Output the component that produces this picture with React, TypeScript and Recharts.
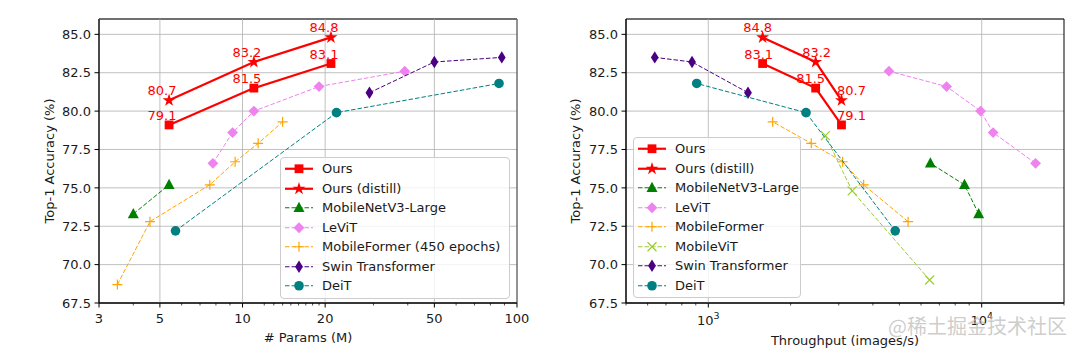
import React from 'react';
import {
  ScatterChart,
  Scatter,
  XAxis,
  YAxis,
  CartesianGrid,
  ReferenceLine,
  ReferenceArea,
  Legend,
} from 'recharts';

const FONT = '"DejaVu Sans", sans-serif';

// accuracies, listed per model from smallest to largest
const oursAcc = [79.1, 81.5, 83.1];
const oursDistillAcc = [80.7, 83.2, 84.8];
const levitAcc = [76.6, 78.6, 80.0, 81.6, 82.6];
const swinAcc = [81.2, 83.2, 83.5];
const deitAcc = [72.2, 79.9, 81.8];

// left panel: # params (M)
const oursParams = [5.4, 11, 21];
const mnv3Params = [4.0, 5.4];
const mnv3AccP = [73.3, 75.2];
const levitParams = [7.8, 9.2, 11, 19, 39];
const mformerParams = [3.5, 4.6, 7.6, 9.4, 11.4, 14.0];
const mformerAccP = [68.7, 72.8, 75.2, 76.7, 77.9, 79.3];
const swinParams = [29, 50, 88];
const deitParams = [5.7, 22, 86];

// right panel: throughput (images/s), same model order
const oursThroughput = [3070, 2470, 1580];
const mnv3Throughput = [9750, 8650, 6490];
const mnv3AccT = [73.3, 75.2, 76.6];
const levitThroughput = [15740, 11010, 9910, 7440, 4580];
const mformerThroughput = [5380, 3700, 3100, 2380, 1720];
const mformerAccT = [72.8, 75.2, 76.7, 77.9, 79.3];
const mvitThroughput = [6450, 3360, 2680];
const mvitAcc = [69.0, 74.8, 78.4];
const swinThroughput = [1397, 872, 637];
const deitThroughput = [4827, 2277, 907];

const accTicks = [67.5, 70, 72.5, 75, 77.5, 80, 82.5, 85];
const paramTicks = [3, 5, 10, 20, 50, 100];
const paramMinor = [4, 6, 7, 8, 9, 12, 13, 14, 15, 16, 17, 18, 19, 30, 40, 60, 70, 80, 90];
const tputTicks = [1000, 10000];
const tputMinor = [500, 600, 700, 800, 900, 2000, 3000, 4000, 5000, 6000, 7000, 8000, 9000, 20000];

// label nudges (px) for the annotated red points
const leftLabelDx = [-7, -7, -7];
const rightLabelDxOurs = [10, -5, -4];
const rightLabelDxDistill = [10, 1, -5];

type Pt = { v: number; acc: number; i: number };
const pts = (xs: number[], ys: number[]): Pt[] => xs.map((v, i) => ({ v, acc: ys[i], i }));

type Kind = 'square' | 'star' | 'triangle' | 'diamond' | 'thin_diamond' | 'plus' | 'x' | 'circle';

interface Series {
  name: string;
  data: Pt[];
  color: string;
  marker: Kind;
  solid?: boolean;
}

const Marker = ({ kind, cx, cy, color }: { kind: Kind; cx: number; cy: number; color: string }) => {
  switch (kind) {
    case 'square':
      return <rect x={cx - 4.4} y={cy - 4.4} width={8.8} height={8.8} fill={color} />;
    case 'star': {
      const R = 6.8;
      const r = R * 0.382;
      const p: string[] = [];
      for (let k = 0; k < 10; k++) {
        const a = -Math.PI / 2 + (k * Math.PI) / 5;
        const rad = k % 2 === 0 ? R : r;
        p.push(`${cx + rad * Math.cos(a)},${cy + rad * Math.sin(a)}`);
      }
      return <polygon points={p.join(' ')} fill={color} />;
    }
    case 'triangle':
      return <polygon points={`${cx},${cy - 6} ${cx - 5.5},${cy + 4.2} ${cx + 5.5},${cy + 4.2}`} fill={color} />;
    case 'diamond':
      return <polygon points={`${cx},${cy - 5.4} ${cx + 5.4},${cy} ${cx},${cy + 5.4} ${cx - 5.4},${cy}`} fill={color} />;
    case 'thin_diamond':
      return <polygon points={`${cx},${cy - 6.2} ${cx + 3.9},${cy} ${cx},${cy + 6.2} ${cx - 3.9},${cy}`} fill={color} />;
    case 'circle':
      return <circle cx={cx} cy={cy} r={4.8} fill={color} />;
    case 'plus':
      return (
        <path
          d={`M${cx - 5},${cy}H${cx + 5}M${cx},${cy - 5}V${cy + 5}`}
          stroke={color}
          strokeWidth={1.2}
          fill="none"
        />
      );
    case 'x':
      return (
        <path
          d={`M${cx - 4.5},${cy - 4.5}L${cx + 4.5},${cy + 4.5}M${cx - 4.5},${cy + 4.5}L${cx + 4.5},${cy - 4.5}`}
          stroke={color}
          strokeWidth={1.2}
          fill="none"
        />
      );
    default:
      return null;
  }
};

const leftSeries: Series[] = [
  { name: 'Ours', data: pts(oursParams, oursAcc), color: 'red', marker: 'square', solid: true },
  { name: 'Ours (distill)', data: pts(oursParams, oursDistillAcc), color: 'red', marker: 'star', solid: true },
  { name: 'MobileNetV3-Large', data: pts(mnv3Params, mnv3AccP), color: 'green', marker: 'triangle' },
  { name: 'LeViT', data: pts(levitParams, levitAcc), color: 'violet', marker: 'diamond' },
  { name: 'MobileFormer (450 epochs)', data: pts(mformerParams, mformerAccP), color: 'orange', marker: 'plus' },
  { name: 'Swin Transformer', data: pts(swinParams, swinAcc), color: 'indigo', marker: 'thin_diamond' },
  { name: 'DeiT', data: pts(deitParams, deitAcc), color: 'teal', marker: 'circle' },
];

const rightSeries: Series[] = [
  { name: 'Ours', data: pts(oursThroughput, oursAcc), color: 'red', marker: 'square', solid: true },
  { name: 'Ours (distill)', data: pts(oursThroughput, oursDistillAcc), color: 'red', marker: 'star', solid: true },
  { name: 'MobileNetV3-Large', data: pts(mnv3Throughput, mnv3AccT), color: 'green', marker: 'triangle' },
  { name: 'LeViT', data: pts(levitThroughput, levitAcc), color: 'violet', marker: 'diamond' },
  { name: 'MobileFormer', data: pts(mformerThroughput, mformerAccT), color: 'orange', marker: 'plus' },
  { name: 'MobileViT', data: pts(mvitThroughput, mvitAcc), color: 'yellowgreen', marker: 'x' },
  { name: 'Swin Transformer', data: pts(swinThroughput, swinAcc), color: 'indigo', marker: 'thin_diamond' },
  { name: 'DeiT', data: pts(deitThroughput, deitAcc), color: 'teal', marker: 'circle' },
];

const lineStyle = (s: Series) => ({
  stroke: s.color,
  strokeWidth: s.solid ? 2.2 : 1,
  strokeDasharray: s.solid ? undefined : '4.5 2',
  fill: 'none',
});

const LegendBox = ({ series, width }: { series: Series[]; width: number }) => (
  <div
    style={{
      width,
      boxSizing: 'border-box',
      border: '1px solid #cccccc',
      borderRadius: 4,
      background: 'rgba(255,255,255,0.8)',
      padding: '1px 0 2px 0',
      fontFamily: FONT,
      fontSize: 13,
      color: '#1a1a1a',
    }}
  >
    {series.map((s) => (
      <div key={s.name} style={{ display: 'flex', alignItems: 'center', height: 19.5 }}>
        <svg width={41} height={19.5} style={{ flex: 'none', display: 'block' }}>
          <line x1={4} x2={32} y1={9.75} y2={9.75} {...lineStyle(s)} />
          <Marker kind={s.marker} cx={18} cy={9.75} color={s.color} />
        </svg>
        <span style={{ whiteSpace: 'nowrap' }}>{s.name}</span>
      </div>
    ))}
  </div>
);

const YTick = (props: any) => {
  const { x, y, payload } = props;
  return (
    <g>
      <line x1={x - 4.5} x2={x} y1={y} y2={y} stroke="#000" strokeWidth={1} />
      <text x={x - 8} y={y} dy="0.36em" textAnchor="end" fontFamily={FONT} fontSize={13} fill="#1a1a1a">
        {Number(payload.value).toFixed(1)}
      </text>
    </g>
  );
};

const LogTick = (props: any) => {
  const { x, y, payload, majors, sci } = props;
  const v = payload.value as number;
  const major = majors.includes(v);
  return (
    <g>
      <line x1={x} x2={x} y1={y} y2={y + (major ? 4.5 : 2.5)} stroke="#000" strokeWidth={major ? 1 : 0.7} />
      {major && !sci && (
        <text x={x} y={y + 20} textAnchor="middle" fontFamily={FONT} fontSize={13} fill="#1a1a1a">
          {v}
        </text>
      )}
      {major && sci && (
        <text x={x} y={y + 22} textAnchor="middle" fontFamily={FONT} fontSize={13} fill="#1a1a1a">
          10
          <tspan dy={-6} fontSize={9.5}>
            {Math.round(Math.log10(v))}
          </tspan>
        </text>
      )}
    </g>
  );
};

const labelShape = (dxs: number[]) => (p: any) => {
  const d = p.payload ?? p;
  return (
    <text
      x={p.cx + dxs[d.i]}
      y={p.cy - 5}
      textAnchor="middle"
      fontFamily={FONT}
      fontSize={13}
      fill="red"
    >
      {Number(d.acc).toFixed(1)}
    </text>
  );
};

interface PanelProps {
  series: Series[];
  domain: [number, number];
  majors: number[];
  minors: number[];
  sci?: boolean;
  margin: { top: number; right: number; bottom: number; left: number };
  legendPos: { left: number; top: number; width: number };
  dxOurs: number[];
  dxDistill: number[];
  xTitle: string;
  xTitleX: number;
  xTitleY: number;
  yTitleX: number;
  watermark?: boolean;
}

const Panel = ({
  series,
  domain,
  majors,
  minors,
  sci,
  margin,
  legendPos,
  dxOurs,
  dxDistill,
  xTitle,
  xTitleX,
  xTitleY,
  yTitleX,
  watermark,
}: PanelProps) => (
  <div style={{ position: 'relative', width: 540, height: 351 }}>
    <ScatterChart width={540} height={351} margin={margin}>
      <CartesianGrid vertical={false} stroke="#b0b0b0" strokeWidth={0.8} />
      {majors.map((m) => (
        <ReferenceLine key={m} x={m} stroke="#b0b0b0" strokeWidth={0.8} />
      ))}
      <XAxis
        type="number"
        dataKey="v"
        scale="log"
        domain={domain}
        ticks={[...majors, ...minors]}
        interval={0}
        allowDataOverflow
        height={30}
        tickSize={0}
        tickMargin={0}
        tickLine={false}
        axisLine={{ stroke: '#000' }}
        tick={(p: any) => <LogTick {...p} majors={majors} sci={sci} />}
      />
      <YAxis
        type="number"
        dataKey="acc"
        domain={[67.5, 86]}
        ticks={accTicks}
        interval={0}
        allowDataOverflow
        width={60}
        tickSize={0}
        tickMargin={0}
        tickLine={false}
        axisLine={{ stroke: '#000' }}
        tick={<YTick />}
      />
      {series.map((s) => (
        <Scatter
          key={s.name}
          name={s.name}
          data={s.data}
          fill={s.color}
          line={lineStyle(s)}
          lineType="joint"
          shape={(p: any) => <Marker kind={s.marker} cx={p.cx} cy={p.cy} color={s.color} />}
          isAnimationActive={false}
        />
      ))}
      <Scatter data={series[0].data} shape={labelShape(dxOurs)} isAnimationActive={false} />
      <Scatter data={series[1].data} shape={labelShape(dxDistill)} isAnimationActive={false} />
      <ReferenceArea
        x1={domain[0]}
        x2={domain[1]}
        y1={67.5}
        y2={86}
        fill="none"
        fillOpacity={0}
        stroke="#000"
        strokeWidth={1}
        ifOverflow="visible"
      />
      <Legend
        layout="vertical"
        align="center"
        verticalAlign="middle"
        wrapperStyle={{ left: legendPos.left, top: legendPos.top, width: legendPos.width, height: 'auto' }}
        content={() => <LegendBox series={series} width={legendPos.width} />}
      />
    </ScatterChart>
    <svg
      width={540}
      height={351}
      style={{ position: 'absolute', left: 0, top: 0, pointerEvents: 'none' }}
    >
      <text
        x={yTitleX}
        y={161}
        transform={`rotate(-90 ${yTitleX} 161)`}
        textAnchor="middle"
        dominantBaseline="central"
        fontFamily={FONT}
        fontSize={13}
        fill="#1a1a1a"
      >
        Top-1 Accuracy (%)
      </text>
      <text x={xTitleX} y={xTitleY} textAnchor="middle" fontFamily={FONT} fontSize={13} fill="#1a1a1a">
        {xTitle}
      </text>
      {watermark && (
        <text
          x={527}
          y={334}
          textAnchor="end"
          fontFamily='"Noto Sans CJK SC", sans-serif'
          fontSize={20}
          fill="#bdbdbd"
          fillOpacity={0.75}
        >
          @稀土掘金技术社区
        </text>
      )}
    </svg>
  </div>
);

export default function App() {
  return (
    <div
      style={{
        position: 'absolute',
        left: 0,
        top: 0,
        width: 1080,
        height: 351,
        background: '#fff',
        display: 'flex',
      }}
    >
      <Panel
        series={leftSeries}
        domain={[3, 100]}
        majors={paramTicks}
        minors={paramMinor}
        margin={{ top: 19, right: 23, bottom: 18, left: 39 }}
        legendPos={{ left: 280, top: 157, width: 230 }}
        dxOurs={leftLabelDx}
        dxDistill={leftLabelDx}
        xTitle="# Params (M)"
        xTitleX={308}
        xTitleY={342}
        yTitleX={49}
      />
      <Panel
        series={rightSeries}
        domain={[500, 20000]}
        majors={tputTicks}
        minors={tputMinor}
        sci
        margin={{ top: 19, right: 16, bottom: 18, left: 26 }}
        legendPos={{ left: 93, top: 137, width: 168 }}
        dxOurs={rightLabelDxOurs}
        dxDistill={rightLabelDxDistill}
        xTitle="Throughput (images/s)"
        xTitleX={305}
        xTitleY={345}
        yTitleX={35}
        watermark
      />
    </div>
  );
}
